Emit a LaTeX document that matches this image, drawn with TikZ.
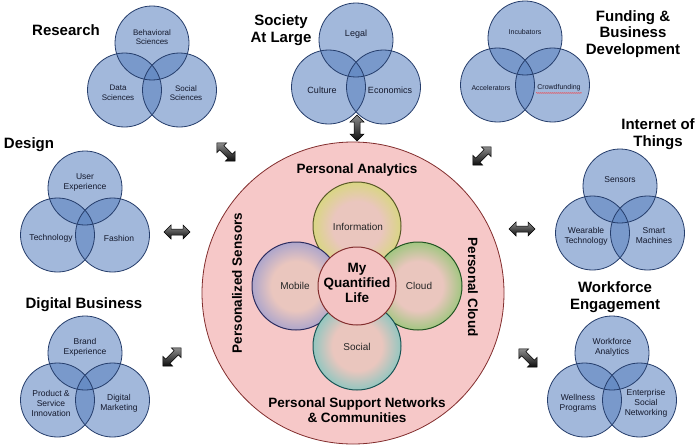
\documentclass[tikz,border=0pt]{standalone}
\usepackage{fontspec}
\setmainfont{Liberation Sans}
\usetikzlibrary{decorations.pathmorphing}

\definecolor{vennfill}{RGB}{90,130,192}
\definecolor{vennedge}{RGB}{38,62,108}
\definecolor{venntext}{RGB}{20,25,45}
\definecolor{bigpink}{RGB}{246,200,200}
\definecolor{bigedge}{RGB}{130,45,45}
\definecolor{innerpink}{RGB}{234,198,190}
\definecolor{infoRim}{RGB}{205,225,90}
\definecolor{mobRim}{RGB}{130,142,212}
\definecolor{cloudRim}{RGB}{110,198,85}
\definecolor{socRim}{RGB}{85,198,192}
\definecolor{infoEdge}{RGB}{90,90,40}
\definecolor{mobEdge}{RGB}{45,45,95}
\definecolor{cloudEdge}{RGB}{35,85,35}
\definecolor{socEdge}{RGB}{25,85,85}
\definecolor{centerpink}{RGB}{244,196,196}

\pgfdeclareradialshading{infoshade}{\pgfpoint{0bp}{0bp}}{color(0bp)=(innerpink); color(14bp)=(innerpink); color(33bp)=(infoRim); color(50bp)=(infoRim)}
\pgfdeclareradialshading{mobshade}{\pgfpoint{0bp}{0bp}}{color(0bp)=(innerpink); color(14bp)=(innerpink); color(33bp)=(mobRim); color(50bp)=(mobRim)}
\pgfdeclareradialshading{cloudshade}{\pgfpoint{0bp}{0bp}}{color(0bp)=(innerpink); color(14bp)=(innerpink); color(33bp)=(cloudRim); color(50bp)=(cloudRim)}
\pgfdeclareradialshading{socshade}{\pgfpoint{0bp}{0bp}}{color(0bp)=(innerpink); color(14bp)=(innerpink); color(33bp)=(socRim); color(50bp)=(socRim)}

\tikzset{
  venncirc/.style={circle, minimum size=74pt, inner sep=0pt, fill=vennfill, fill opacity=0.56},
  vennrim/.style={draw=vennedge, line width=0.8pt},
  vennlbl/.style={text=venntext, align=center, inner sep=1pt},
  heading/.style={font=\bfseries\fontsize{15}{16.5}\selectfont, align=center, text=black, inner sep=0pt},
  bigtitle/.style={font=\bfseries\fontsize{13.5}{14.5}\selectfont, align=center, text=black, inner sep=0pt},
  petal/.style={circle, minimum size=88pt, inner sep=0pt, line width=1pt},
  petallbl/.style={font=\fontsize{10}{12}\selectfont, text=black!85, inner sep=0pt},
  blockarrowstyle/.style={draw=black, line width=0.5pt, top color=black!45, bottom color=black!95, line join=miter}
}

\newcommand{\vennthree}[7]{%
  \begin{scope}[shift={(#2,#3)}]
    \node[venncirc] (#1T) at (0,0) {};
    \node[venncirc] (#1L) at (-27.5,47) {};
    \node[venncirc] (#1R) at (27.5,47) {};
    \draw[vennrim] (#1T.center) circle[radius=37pt];
    \draw[vennrim] (#1L.center) circle[radius=37pt];
    \draw[vennrim] (#1R.center) circle[radius=37pt];
    \node[vennlbl, font=#7] (#1Tt) at (0,-6) {#4};
    \node[vennlbl, font=#7] (#1Lt) at (-34,50) {#5};
    \node[vennlbl, font=#7] (#1Rt) at (34,50) {#6};
  \end{scope}}

% block double arrow: name, x, y, angle
\newcommand{\blockarrow}[4]{%
  \coordinate (#1) at (#2,#3);
  \path[blockarrowstyle, shift={(#1)}, rotate=#4]
    (-13,0) -- (-6,-7) -- (-6,-3) -- (6,-3) -- (6,-7) -- (13,0) -- (6,7) -- (6,3) -- (-6,3) -- (-6,7) -- cycle;}

\begin{document}
\begin{tikzpicture}[x=1pt, y=-1pt]
  \useasboundingbox (0,0) rectangle (700,444);
  \fill[white] (0,0) rectangle (700,444);

  % central big circle
  \node[circle, minimum size=302pt, inner sep=0pt, fill=bigpink, draw=bigedge, line width=0.8pt] (big) at (353,293) {};

  % petals
  \node[petal, shading=infoshade, draw=infoEdge] (info) at (357,226) {};
  \node[petal, shading=mobshade, draw=mobEdge] (mob) at (296,286) {};
  \node[petal, shading=cloudshade, draw=cloudEdge] (cloud) at (418,286) {};
  \node[petal, shading=socshade, draw=socEdge] (soc) at (357,346) {};
  \node[circle, minimum size=78pt, inner sep=0pt, fill=centerpink, draw=bigedge, line width=1pt] (core) at (357,286) {};

  \node[petallbl] (infoT) at (358,227) {Information};
  \node[petallbl] (mobT) at (295,286) {Mobile};
  \node[petallbl] (cloudT) at (419,286) {Cloud};
  \node[petallbl] (socT) at (357,347) {Social};
  \node[bigtitle, font=\bfseries\fontsize{13.5}{15}\selectfont] (coreT) at (357,283) {My\\Quantified\\Life};

  \node[bigtitle] (tAna) at (357,170) {Personal Analytics};
  \node[bigtitle, rotate=90] (tSens) at (237,283) {Personalized Sensors};
  \node[bigtitle, rotate=-90] (tCloud) at (473,287) {Personal Cloud};
  \node[bigtitle] (tSup) at (357,410) {Personal Support Networks\\\& Communities};

  % Venn diagrams
  \vennthree{Res}{152}{43}{Behavioral\\Sciences}{Data\\Sciences}{Social\\Sciences}{\fontsize{8}{9.5}\selectfont}
  \vennthree{Soc}{356}{40}{Legal}{Culture}{Economics}{\fontsize{9}{10.5}\selectfont}
  \vennthree{Fun}{525}{38}{Incubators}{Accelerators}{Crowdfunding}{\fontsize{7}{8.5}\selectfont}
  \vennthree{Des}{85}{188}{User\\Experience}{Technology}{Fashion}{\fontsize{8.5}{10}\selectfont}
  \vennthree{IoT}{620}{186}{Sensors}{Wearable\\Technology}{Smart\\Machines}{\fontsize{8.5}{10}\selectfont}
  \vennthree{Dig}{85}{353}{Brand\\Experience}{Product \&\\Service\\Innovation}{Digital\\Marketing}{\fontsize{8.5}{10}\selectfont}
  \vennthree{Wrk}{612}{353}{Workforce\\Analytics}{Wellness\\Programs}{Enterprise\\Social\\Networking}{\fontsize{8.5}{10}\selectfont}

  \draw[red!80, line width=0.4pt, decorate, decoration={snake, amplitude=0.5pt, segment length=2pt}]
    ([yshift=-0.5pt]FunRt.south west) -- ([yshift=-0.5pt]FunRt.south east);

  % headings
  \node[heading] (hRes) at (66,30) {Research};
  \node[heading] (hSoc) at (281,30) {Society\\At Large};
  \node[heading] (hFun) at (633,34) {Funding \&\\Business\\Development};
  \node[heading] (hDes) at (29,145) {Design};
  \node[heading] (hIoT) at (658,134) {Internet of\\Things};
  \node[heading] (hDig) at (84,305) {Digital Business};
  \node[heading] (hWrk) at (615,297) {Workforce\\Engagement};

  % double arrows
  \blockarrow{aRes}{226}{152}{-45}
  \blockarrow{aSoc}{357}{128}{90}
  \blockarrow{aFun}{482}{156}{45}
  \blockarrow{aDes}{177}{232}{0}
  \blockarrow{aIoT}{522}{229}{0}
  \blockarrow{aDig}{172}{357}{45}
  \blockarrow{aWrk}{528}{358}{-45}
\end{tikzpicture}
\end{document}
